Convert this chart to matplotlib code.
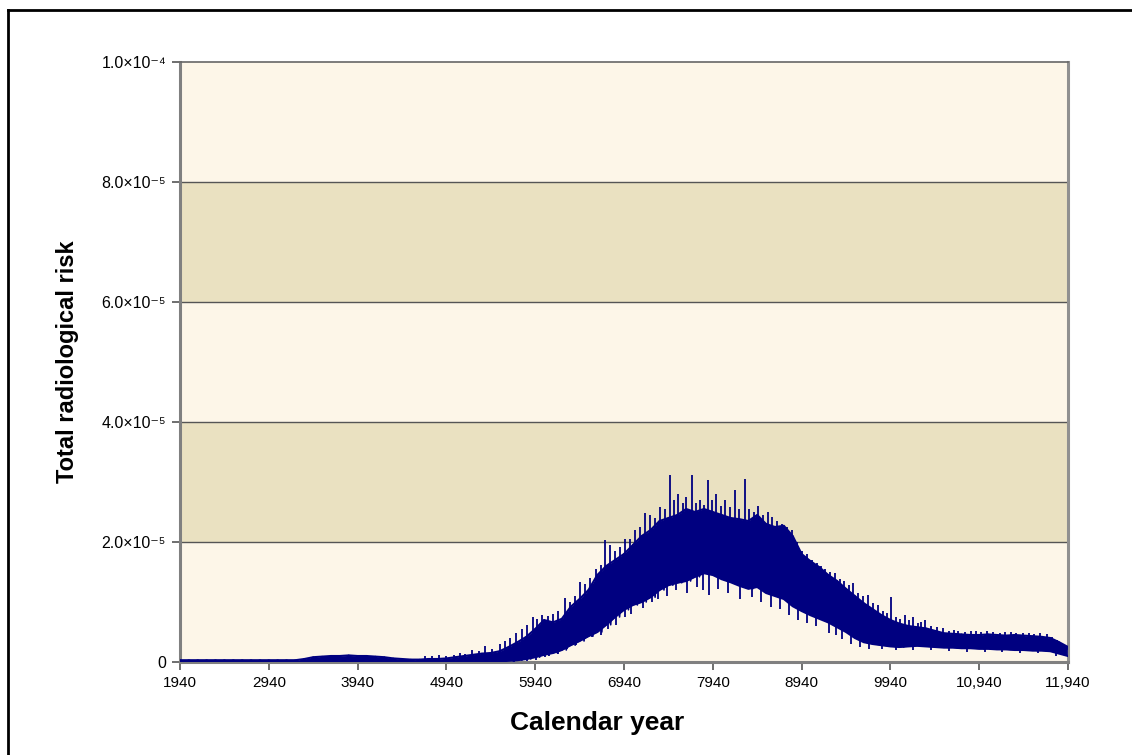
import matplotlib
matplotlib.use("Agg")
import matplotlib.pyplot as plt
from matplotlib.lines import Line2D
import numpy as np

plt.rcParams['font.family'] = ['Liberation Sans', 'DejaVu Sans']

# ---------------- data (risk values in units of 1e-5) ----------------
years = list(range(1940, 11941, 100))
upper = [0.03]*13 + [
    0.03, 0.05, 0.08, 0.09, 0.10, 0.10, 0.11, 0.10, 0.10, 0.09,   # 3240..4140
    0.08, 0.06, 0.05, 0.04, 0.04, 0.05, 0.05, 0.06, 0.08, 0.10,   # 4240..5140
    0.12, 0.14, 0.15, 0.18, 0.25, 0.33, 0.42, 0.55, 0.70, 0.66,   # 5240..6140
    0.72, 0.92, 1.05, 1.20, 1.45, 1.60, 1.70, 1.80, 1.95, 2.10,   # 6240..7140
    2.20, 2.35, 2.40, 2.45, 2.55, 2.50, 2.55, 2.50, 2.45, 2.40,   # 7240..8140
    2.38, 2.35, 2.45, 2.30, 2.25, 2.27, 2.10, 1.80, 1.68, 1.58,   # 8240..9140
    1.45, 1.35, 1.22, 1.10, 0.98, 0.88, 0.78, 0.70, 0.64, 0.60,   # 9240..10140
    0.58, 0.56, 0.52, 0.48, 0.47, 0.46, 0.45, 0.45, 0.46, 0.45,   # 10240..11140
    0.44, 0.45, 0.44, 0.43, 0.42, 0.40, 0.33, 0.25]               # 11240..11940
lower = [0.0]*36 + [
    0.01, 0.02, 0.03, 0.05, 0.08, 0.12, 0.15, 0.20, 0.28, 0.35,   # 5540..6440
    0.43, 0.50, 0.62, 0.75, 0.87, 0.95, 1.00, 1.08, 1.20, 1.28,   # 6540..7440
    1.32, 1.35, 1.42, 1.48, 1.45, 1.38, 1.33, 1.27, 1.22, 1.25,   # 7540..8440
    1.15, 1.10, 1.05, 0.93, 0.85, 0.78, 0.72, 0.66, 0.58, 0.50,   # 8540..9440
    0.40, 0.33, 0.30, 0.28, 0.26, 0.25, 0.26, 0.27, 0.26, 0.25,   # 9540..10440
    0.24, 0.24, 0.23, 0.23, 0.22, 0.22, 0.21, 0.21, 0.20, 0.20,   # 10540..11440
    0.19, 0.19, 0.18, 0.14, 0.10]                                 # 11540..11940

# upward spikes (year, peak value in 1e-5)
spike_years = [4700, 4780, 4860, 4930, 5020, 5090, 5150, 5230, 5310, 5380,
               5450, 5544, 5600, 5660, 5720, 5790, 5850, 5910, 5960, 6020,
               6080, 6140, 6200, 6275, 6330, 6390, 6444, 6500, 6560, 6620,
               6680, 6726, 6780, 6840, 6900, 6950, 7010, 7060, 7120, 7176,
               7230, 7290, 7345, 7400, 7458, 7500, 7548, 7600, 7640, 7705,
               7750, 7795, 7840, 7885, 7930, 7980, 8030, 8077, 8130, 8190,
               8240, 8302, 8350, 8400, 8448, 8500, 8560, 8610, 8660, 8720,
               8780, 8830, 8887, 8940, 9000, 9054, 9110, 9160, 9200, 9260,
               9315, 9370, 9420, 9470, 9518, 9570, 9630, 9687, 9740, 9800,
               9860, 9900, 9946, 10000, 10050, 10100, 10150, 10194, 10250, 10290,
               10329, 10400, 10460, 10531, 10600, 10660, 10700, 10780, 10850, 10900,
               10960, 11030, 11100, 11170, 11230, 11300, 11360, 11430, 11500, 11560,
               11620, 11700, 11760, 11820]
spike_vals = [0.10, 0.10, 0.12, 0.10, 0.12, 0.15, 0.13, 0.20, 0.18, 0.26,
              0.22, 0.30, 0.35, 0.40, 0.48, 0.55, 0.62, 0.75, 0.72, 0.78,
              0.76, 0.80, 0.85, 1.07, 1.00, 1.10, 1.33, 1.30, 1.40, 1.55,
              1.62, 2.03, 1.95, 1.85, 1.92, 2.05, 2.05, 2.20, 2.25, 2.48,
              2.45, 2.40, 2.58, 2.55, 3.12, 2.70, 2.80, 2.65, 2.75, 3.12,
              2.65, 2.70, 2.62, 3.03, 2.70, 2.80, 2.60, 2.70, 2.58, 2.87,
              2.55, 3.05, 2.55, 2.50, 2.60, 2.45, 2.50, 2.42, 2.35, 2.30,
              2.25, 2.20, 2.00, 1.85, 1.80, 1.70, 1.65, 1.60, 1.55, 1.50,
              1.48, 1.38, 1.35, 1.28, 1.32, 1.15, 1.10, 1.12, 0.98, 0.95,
              0.85, 0.82, 1.08, 0.75, 0.72, 0.78, 0.70, 0.75, 0.65, 0.66,
              0.70, 0.60, 0.58, 0.57, 0.52, 0.53, 0.52, 0.50, 0.51, 0.52,
              0.50, 0.51, 0.50, 0.49, 0.50, 0.50, 0.48, 0.49, 0.48, 0.47,
              0.48, 0.47, 0.42, 0.36]
# downward dips (year, lowest value in 1e-5)
dip_years = [5700, 5850, 5950, 6050, 6100, 6200, 6300, 6400, 6500, 6580,
             6680, 6760, 6850, 6950, 7020, 7150, 7250, 7320, 7420, 7520,
             7650, 7760, 7830, 7900, 8000, 8110, 8250, 8380, 8480, 8600,
             8700, 8800, 8900, 9000, 9100, 9250, 9330, 9400, 9500, 9600,
             9700, 9850, 10000, 10200, 10400, 10600, 10800, 11000, 11200, 11400,
             11600, 11800]
dip_vals = [0.00, 0.02, 0.04, 0.08, 0.10, 0.14, 0.22, 0.28, 0.38, 0.42,
            0.45, 0.55, 0.62, 0.75, 0.80, 0.90, 1.00, 1.05, 1.10, 1.20,
            1.15, 1.25, 1.20, 1.12, 1.22, 1.15, 1.05, 1.08, 1.00, 0.92,
            0.88, 0.78, 0.70, 0.65, 0.60, 0.48, 0.45, 0.38, 0.30, 0.25,
            0.22, 0.22, 0.20, 0.20, 0.20, 0.18, 0.17, 0.17, 0.16, 0.15,
            0.15, 0.10]

xticks = list(range(1940, 11941, 1000))
xtick_labels = ['1940', '2940', '3940', '4940', '5940', '6940', '7940',
                '8940', '9940', '10,940', '11,940']
yticks = [0, 2e-5, 4e-5, 6e-5, 8e-5, 1e-4]
ytick_labels = ['0', '2.0×10⁻⁵', '4.0×10⁻⁵', '6.0×10⁻⁵', '8.0×10⁻⁵', '1.0×10⁻⁴']

# ---------------- figure ----------------
W, H = 1132, 755
fig = plt.figure(figsize=(W/100, H/100), dpi=100)
fig.patch.set_facecolor('white')

# outer frame (left and top edges visible)
fig.add_artist(Line2D([8/W, 8/W], [0, 1-10/H], color='black', lw=2, transform=fig.transFigure))
fig.add_artist(Line2D([8/W, 1], [1-10/H, 1-10/H], color='black', lw=2, transform=fig.transFigure))

ax = fig.add_axes([180/W, 1-662/H, (1068-180)/W, (662-62)/H])
ax.set_xlim(1940, 11940)
ax.set_ylim(0, 1e-4)

light = '#FDF6E8'
dark = '#EAE1C1'
ax.set_facecolor(light)
for lo, c in [(0, light), (2e-5, dark), (4e-5, light), (6e-5, dark), (8e-5, light)]:
    ax.axhspan(lo, lo+2e-5, color=c, zorder=0, lw=0)
for yv in [2e-5, 4e-5, 6e-5, 8e-5]:
    ax.axhline(yv, color='#555555', lw=1.0, zorder=1)

navy = '#000080'
s = 1e-5
up = np.array(upper)*s
lo_ = np.array(lower)*s
ax.fill_between(years, lo_, up, color=navy, lw=0, zorder=2)
zx, zy = [], []
for i in range(len(years)):
    zx += [years[i], years[i] + 50 if i < len(years)-1 else years[i]]
    zy += [up[i], lo_[i]]
ax.plot(zx, zy, color=navy, lw=1.2, zorder=3)
ax.plot(years, up, color=navy, lw=1.5, zorder=3)
ax.plot(years, lo_, color=navy, lw=1.5, zorder=3)

sp_base = np.interp(spike_years, years, lo_)
ax.vlines(spike_years, sp_base, np.array(spike_vals)*s, color=navy, lw=1.3, zorder=3)
dip_top = np.interp(dip_years, years, up)
ax.vlines(dip_years, np.array(dip_vals)*s, dip_top, color=navy, lw=1.3, zorder=3)

for side in ['left', 'bottom']:
    ax.spines[side].set_color('#808080')
    ax.spines[side].set_linewidth(2.2)
ax.spines['top'].set_color('#666666')
ax.spines['top'].set_linewidth(1.2)
ax.spines['right'].set_color('#909090')
ax.spines['right'].set_linewidth(2.2)

ax.set_xticks(xticks)
ax.set_xticklabels(xtick_labels, fontsize=11)
ax.set_yticks(yticks)
ax.set_yticklabels(ytick_labels, fontsize=11.5)
ax.tick_params(axis='both', direction='out', length=6, width=1.2, color='#555555', pad=4)

fig.text(597/W, 1-723/H, 'Calendar year', fontsize=19, fontweight='bold',
         ha='center', va='center')
ax.set_ylabel('Total radiological risk', fontsize=17, fontweight='bold', labelpad=16)

fig.savefig('out.png', dpi=100, facecolor='white')
